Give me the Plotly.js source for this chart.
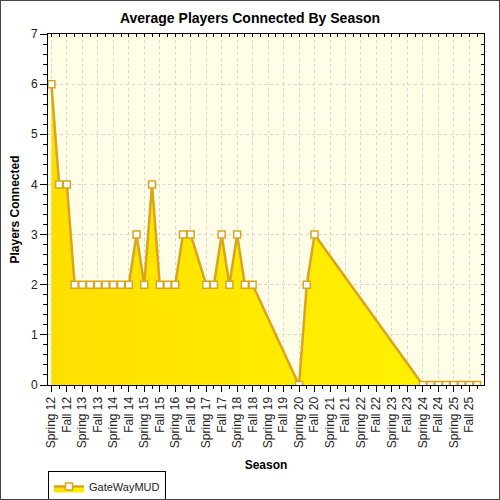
<!DOCTYPE html>
<html>
<head>
<meta charset="utf-8">
<script src="https://cdn.plot.ly/plotly-3.0.1.min.js"></script>
<style>
  html, body { margin: 0; padding: 0; background: #fff; }
  #chart { width: 498px; height: 498px; border: 1px solid #444; }
</style>
</head>
<body>
<div id="chart"></div>
<script>
// Season tick labels, one per major tick
const seasonLabels = [
  'Spring 12', 'Fall 12', 'Spring 13', 'Fall 13', 'Spring 14', 'Fall 14',
  'Spring 15', 'Fall 15', 'Spring 16', 'Fall 16', 'Spring 17', 'Fall 17',
  'Spring 18', 'Fall 18', 'Spring 19', 'Fall 19', 'Spring 20', 'Fall 20',
  'Spring 21', 'Fall 21', 'Spring 22', 'Fall 22', 'Spring 23', 'Fall 23',
  'Spring 24', 'Fall 24', 'Spring 25', 'Fall 25'
];

// Sample positions (in season steps) and average players at each
const samplePos = [
  0, 0.5, 1, 1.5, 2, 2.5, 3, 3.5, 4, 4.5, 5, 5.5, 6, 6.5, 7, 7.5, 8, 8.5, 9,
  10, 10.5, 11, 11.5, 12, 12.5, 13,
  16, 16.5, 17,
  24, 24.5, 25, 25.5, 26, 26.5, 27, 27.5
];
const playersAvg = [
  6, 4, 4, 2, 2, 2, 2, 2, 2, 2, 2, 3, 2, 4, 2, 2, 2, 3, 3,
  2, 2, 3, 2, 3, 2, 2,
  0, 2, 3,
  0, 0, 0, 0, 0, 0, 0, 0
];

const seriesName = 'GateWayMUD';

const FONT = 'Liberation Sans, Arial, sans-serif';
const GOLD = '#d9a51e';

const tickIdx = seasonLabels.map((_, i) => i);
const xRange = [-0.22, 27.95];
const yRange = [0, 7];

const trace = {
  x: samplePos,
  y: playersAvg,
  name: seriesName,
  type: 'scatter',
  mode: 'lines+markers',
  fill: 'tozeroy',
  fillgradient: {
    type: 'horizontal',
    colorscale: [[0, '#ffdf00'], [0.5, '#ffea00'], [1, '#fff200']]
  },
  line: { color: GOLD, width: 2.5 },
  marker: {
    symbol: 'square',
    size: 7,
    color: '#ffffff',
    line: { color: GOLD, width: 1.5 }
  },
  hoverinfo: 'skip'
};

const layout = {
  width: 498,
  height: 498,
  paper_bgcolor: '#ffffff',
  plot_bgcolor: '#fffde6',
  font: { family: FONT, size: 12, color: '#222' },
  margin: { l: 47, r: 15, t: 33, b: 114, pad: 0, autoexpand: false },
  title: {
    text: '<b>Average Players Connected By Season</b>',
    font: { family: FONT, size: 14, color: '#000' },
    x: 0.5, xanchor: 'center', y: 0.965, yanchor: 'middle'
  },
  showlegend: true,
  legend: {
    x: 0, xanchor: 'left',
    y: -0.245, yanchor: 'top',
    bgcolor: '#ffffff',
    bordercolor: '#000',
    borderwidth: 1,
    font: { family: FONT, size: 11, color: '#222' },
    itemwidth: 30,
    tracegroupgap: 0
  },
  xaxis: {
    range: xRange,
    tickmode: 'array',
    tickvals: tickIdx,
    ticktext: seasonLabels,
    tickangle: -90,
    tickfont: { family: FONT, size: 12, color: '#222' },
    ticks: 'outside',
    ticklen: 6,
    tickcolor: '#000',
    showline: true,
    linecolor: '#000',
    linewidth: 1,
    showgrid: true,
    gridcolor: '#d6d6d6',
    griddash: 'dot',
    gridwidth: 1,
    zeroline: false,
    automargin: false,
    minor: { dtick: 0.5, tick0: 0, ticks: 'outside', ticklen: 3, tickcolor: '#000', showgrid: false },
    title: {
      text: '<b>Season</b>',
      font: { family: FONT, size: 12, color: '#000' },
      standoff: 13
    },
    fixedrange: true
  },
  yaxis: {
    range: yRange,
    dtick: 1,
    tick0: 0,
    tickfont: { family: FONT, size: 12, color: '#222' },
    ticks: 'outside',
    ticklen: 7,
    tickcolor: '#000',
    showline: true,
    linecolor: '#000',
    linewidth: 1,
    showgrid: true,
    gridcolor: '#d6d6d6',
    griddash: 'dot',
    gridwidth: 1,
    zeroline: false,
    automargin: false,
    minor: { dtick: 0.2, tick0: 0, ticks: 'outside', ticklen: 4, tickcolor: '#000', showgrid: false },
    title: {
      text: '<b>Players Connected</b>',
      font: { family: FONT, size: 12, color: '#000' },
      standoff: 8
    },
    fixedrange: true
  },
  // mirrored frame on top / right, ticks pointing inward
  xaxis2: {
    overlaying: 'x', side: 'top', anchor: 'y',
    range: xRange, dtick: 0.5, tick0: 0,
    ticks: 'inside', ticklen: 3, tickcolor: '#000',
    showticklabels: false, showgrid: false, zeroline: false,
    showline: true, linecolor: '#000', linewidth: 1,
    automargin: false,
    fixedrange: true
  },
  yaxis2: {
    overlaying: 'y', side: 'right', anchor: 'x',
    range: yRange, dtick: 0.2, tick0: 0,
    ticks: 'inside', ticklen: 3, tickcolor: '#000',
    showticklabels: false, showgrid: false, zeroline: false,
    showline: true, linecolor: '#000', linewidth: 1,
    automargin: false,
    fixedrange: true
  }
};

// an empty trace so the mirror axes get drawn
const frameTrace = {
  x: [], y: [], xaxis: 'x2', yaxis: 'y2',
  type: 'scatter', mode: 'markers', showlegend: false, hoverinfo: 'skip'
};

Plotly.newPlot('chart', [trace, frameTrace], layout, {
  displayModeBar: false,
  staticPlot: true
});
</script>
</body>
</html>
